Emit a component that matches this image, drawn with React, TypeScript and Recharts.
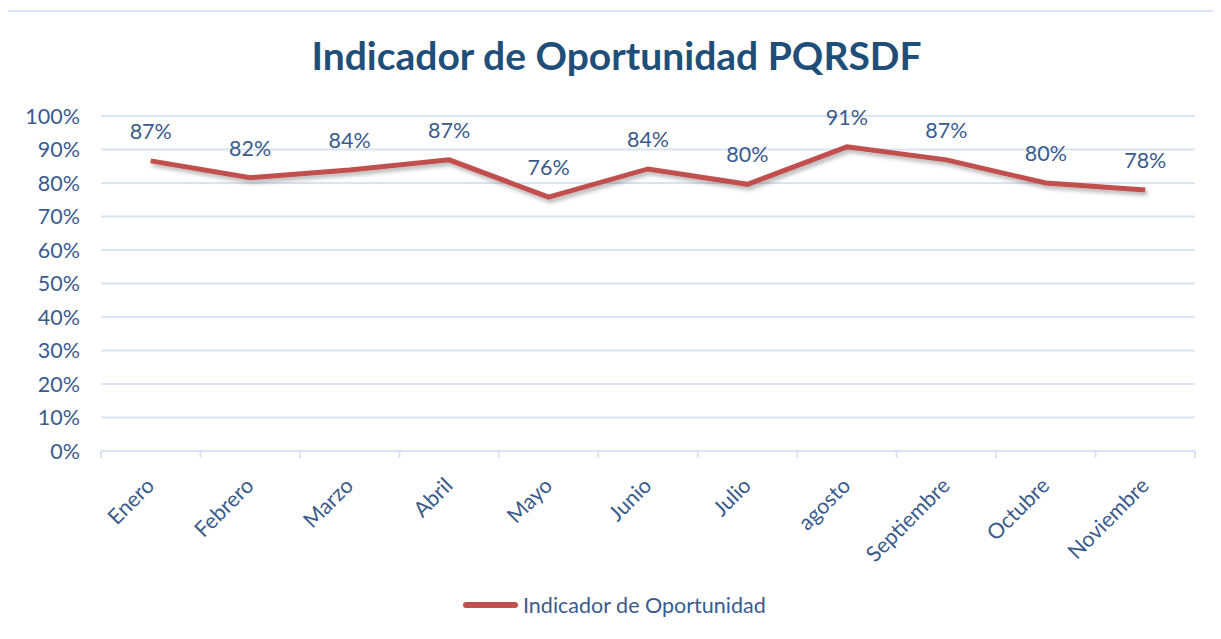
import { LineChart, Line, XAxis, YAxis, CartesianGrid, LabelList } from "recharts";

const months = ["Enero", "Febrero", "Marzo", "Abril", "Mayo", "Junio", "Julio", "agosto", "Septiembre", "Octubre", "Noviembre"];
const indicador = [0.866, 0.816, 0.839, 0.869, 0.758, 0.842, 0.796, 0.908, 0.869, 0.8, 0.779];
const yTicks = [0, 0.1, 0.2, 0.3, 0.4, 0.5, 0.6, 0.7, 0.8, 0.9, 1];

const data = months.map((m, i) => ({ month: m, value: indicador[i] }));

const FONT = "Lato, 'Open Sans', sans-serif";
const TEXT = "#3b5b8c";
const GRID = "#d9e4f3";
const RED = "#c0504d";
const FS = 21.5;

const pct = (v: number) => `${Math.round(v * 100)}%`;

// tick marks sit on category boundaries (Excel style), labels rotated at centers
function MonthTick({ x, y, payload, index, visibleTicksCount }: any) {
  const off = payload?.offset ?? 0;
  const last = index === visibleTicksCount - 1;
  const top = y - 8;
  return (
    <g>
      <line x1={x - off} y1={top} x2={x - off} y2={top + 7} stroke={GRID} strokeWidth={2} />
      {last && <line x1={x + off} y1={top} x2={x + off} y2={top + 7} stroke={GRID} strokeWidth={2} />}
      <text x={x + 5} y={y + 28} transform={`rotate(-45, ${x + 5}, ${y + 28})`} textAnchor="end"
        fontSize={FS} fill={TEXT} fontFamily={FONT}>{payload.value}</text>
    </g>
  );
}

export default function App() {
  return (
    <div style={{ position: "relative", width: 1221, height: 639, fontFamily: FONT, margin: -8, overflow: "hidden", background: "#fff" }}>
      <svg width={0} height={0} style={{ position: "absolute" }}>
        <defs>
          <filter id="lineShadow" x="-5%" y="-50%" width="110%" height="200%">
            <feDropShadow dx={2} dy={3} stdDeviation={2} floodColor="#000" floodOpacity={0.3} />
          </filter>
        </defs>
      </svg>
      <div style={{ position: "absolute", left: 6, top: 10, width: 1230, height: 650, border: `2px solid ${GRID}`, boxSizing: "border-box" }} />
      <div style={{ position: "absolute", left: 0, width: 1221, top: 32, textAlign: "center", fontSize: 39, fontWeight: 700, color: "#1f4e79", paddingLeft: 12, boxSizing: "border-box" }}>
        Indicador de Oportunidad PQRSDF
      </div>
      <div style={{ position: "absolute", top: 0, left: 0 }}>
        <LineChart width={1221} height={639} data={data} margin={{ top: 116, right: 26, left: 0, bottom: 0 }}>
          <CartesianGrid horizontal vertical={false} stroke={GRID} strokeWidth={2} />
          <XAxis dataKey="month" scale="band" height={188} axisLine={{ stroke: GRID, strokeWidth: 2 }} tickLine={false} tick={<MonthTick />} interval={0} />
          <YAxis domain={[0, 1]} ticks={yTicks} tickFormatter={pct} width={101} axisLine={false} tickLine={false}
            tickSize={0} tickMargin={21} tick={{ fontSize: FS, fill: TEXT, fontFamily: FONT }} />
          <Line dataKey="value" stroke={RED} strokeWidth={5} dot={false} isAnimationActive={false} filter="url(#lineShadow)">
            <LabelList dataKey="value" position="top" offset={22} formatter={pct as any}
              style={{ fontSize: FS, fill: TEXT, fontFamily: FONT }} />
          </Line>
        </LineChart>
      </div>
      <div style={{ position: "absolute", top: 592, left: 463, display: "flex", alignItems: "center", fontSize: FS, color: TEXT }}>
        <span style={{ display: "inline-block", width: 55, height: 6, borderRadius: 3, background: RED, marginRight: 5 }} />
        Indicador de Oportunidad
      </div>
    </div>
  );
}
